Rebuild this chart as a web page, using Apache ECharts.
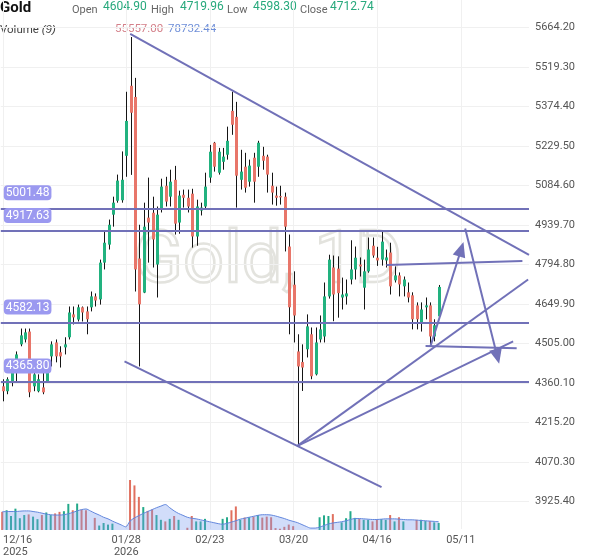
<!DOCTYPE html>
<html><head><meta charset="utf-8">
<script src="https://cdn.jsdelivr.net/npm/echarts@6/dist/echarts.min.js"></script>
<style>html,body{margin:0;padding:0;background:#fff}#c{width:600px;height:558px}</style>
</head><body><div id="c"></div>
<script>
// ---- data ----
const opens  = [4348,4330,4366,4399,4502,4520,4549,4348,4330,4344,4366,4458,4509,4473,4491,4528,4612,4593,4638,4623,
                4638,4678,4667,4802,4868,4978,5029,5031,5194,5451,5410,4817,4692,4967,4985,4795,4997,5084,5044,5106,
                4949,5051,5040,5055,4898,4993,5008,5114,5242,5132,5172,5198,5359,5337,5106,5154,5099,5187,5154,5194,
                5191,5084,5048,5046,5044,4861,4721,4476,4437,4484,4539,4392,4520,4531,4678,4784,4780,4674,4678,4740,
                4777,4795,4710,4770,4864,4820,4813,4810,4839,4737,4755,4715,4693,4682,4645,4583,4638,4645,4531,4604.90];
const highs  = [4374,4381,4421,4476,4560,4560,4560,4403,4392,4399,4439,4513,4520,4495,4528,4641,4641,4648,4641,4641,
                4696,4689,4813,4916,4960,5044,5125,5210,5429,5630,5480,4941,5022,5114,5044,5008,5110,5117,5143,5157,
                5066,5070,5070,5073,5033,5022,5132,5234,5245,5223,5223,5301,5429,5392,5216,5205,5180,5205,5249,5227,
                5198,5132,5081,5084,5059,4905,4770,4539,4502,4612,4564,4564,4608,4729,4831,4828,4825,4747,4740,4884,
                4861,4821,4813,4894,4894,4860,4917,4850,4875,4788,4766,4751,4729,4693,4656,4656,4674,4656,4594,4719.96];
const lows   = [4293,4319,4348,4366,4495,4509,4308,4330,4326,4319,4363,4421,4436,4417,4465,4520,4575,4586,4586,4539,
                4623,4641,4648,4777,4850,4934,5022,5022,5117,5124,4696,4421,4690,4802,4784,4674,4986,5008,5008,4905,
                4908,5004,4986,4857,4864,4975,4997,5095,5136,5125,5143,5180,5271,5004,5070,5059,5081,5022,5117,5143,
                5059,5015,5011,5015,4843,4539,4509,4128.5,4331,4454,4374,4388,4509,4509,4670,4587,4600,4630,4648,4722,
                4740,4751,4630,4765,4820,4790,4791,4784,4685,4729,4678,4678,4656,4557,4557,4549,4594,4502,4513,4598.30];
const closes = [4330,4374,4399,4465,4535,4546,4326,4392,4374,4326,4403,4502,4458,4458,4502,4619,4601,4638,4619,4594,
                4678,4663,4802,4875,4941,5022,5103,5106,5322,5352,4777,4649,4934,4949,4887,4978,5081,5026,5099,4945,
                5048,5040,5008,4898,5008,5004,5081,5209,5154,5209,5191,5249,5308,5121,5136,5077,5158,5099,5242,5176,
                5125,5059,5040,5043,4934,4638,4608,4421,4417,4568,4385,4509,4557,4678,4813,4685,4690,4685,4689,4777,
                4820,4788,4770,4850,4828,4810,4879,4821,4715,4755,4722,4740,4674,4594,4594,4630,4645,4531,4572,4712.74];
const volumes = [142500,155000,110000,167500,92500,117500,122500,105000,85000,117500,137500,117500,130000,142500,147500,205000,155000,207500,160000,155000,
                 0,95000,35000,55000,42500,50000,0,0,0,392500,350000,260000,180000,150000,160000,117500,80000,67500,87500,110000,
                 80000,0,17500,110000,67500,67500,87500,0,0,0,87500,100000,155000,185000,80000,97500,100000,105000,117500,97500,
                 105000,100000,15000,10000,25000,42500,30000,0,0,0,0,0,100000,115000,110000,125000,0,60000,92500,147500,
                 95000,87500,80000,80000,67500,80000,85000,80000,117500,67500,100000,67500,0,0,80000,80000,70000,70000,60000,55557];
const volumeMA = [142500,145000,145000,145000,147500,150000,150000,145000,140000,132500,125000,120000,117500,117500,120000,127500,137500,150000,160000,165000,
                  150000,132500,117500,100000,87500,70000,55000,40000,25000,70000,95000,112500,130000,145000,160000,175000,187500,200000,175000,150000,
                  130000,115000,100000,92500,87500,80000,72500,65000,57500,50000,45000,52500,62500,72500,85000,92500,100000,107500,115000,120000,
                  120000,117500,110000,100000,90000,77500,67500,57500,42500,27500,15000,15000,22500,35000,47500,55000,60000,65000,72500,82500,
                  90000,90000,87500,85000,82500,82500,85000,87500,87500,87500,85000,82500,80000,80000,77500,75000,72500,70000,67500,65000];
const xTickIndex  = [0, 28, 47, 66, 85, 104];
const xTickLabels = ['12/16\n2025', '01/28\n2026', '02/23', '03/20', '04/16', '05/11'];
const yTicks = [5664.20, 5519.30, 5374.40, 5229.50, 5084.60, 4939.70, 4794.80, 4649.90, 4505.00, 4360.10, 4215.20, 4070.30, 3925.40];
const levelPrices = [5001.48, 4917.63, 4582.13, 4365.80];
const trendLines = [
  [[28.9, 5641.3], [119.5, 4830.3]],
  [[27.6, 4439.8], [86.0, 3978.3]],
  [[66.8, 4128.4], [119.3, 4740.2]],
  [[66.8, 4128.4], [115.9, 4513.1]],
  [[87.1, 4793.3], [118.0, 4807.9]],
  [[96.0, 4495.8], [116.7, 4487.4]]
];
const arrows = [
  [[97.1, 4494.7], [104.1, 4851.1]],
  [[105.0, 4927.0], [112.3, 4457.4]]
];
const lastPrice = 4701.49;
const volumeLast = 55557.00, volumeMALast = 78732.44;

// ---- styles ----
const UP = '#22b27f', DOWN = '#e8766a', WICK = '#151515', DRAW = '#7171b8';
const FONT = 'Roboto, sans-serif';
const n = opens.length;
const last = n - 1;

const candleData = opens.map((o, i) => [i, o, closes[i], lows[i], highs[i]]);

function renderCandle(params, api) {
  const x = api.value(0), o = api.value(1), c = api.value(2), l = api.value(3), h = api.value(4);
  const pO = api.coord([x, o]), pC = api.coord([x, c]), pL = api.coord([x, l]), pH = api.coord([x, h]);
  const cx = Math.round(pO[0]);
  const top = Math.min(pO[1], pC[1]), bot = Math.max(pO[1], pC[1]);
  return {
    type: 'group',
    children: [
      { type: 'line', shape: { x1: cx + 0.5, y1: pH[1], x2: cx + 0.5, y2: pL[1] }, style: { stroke: WICK, lineWidth: 1 } },
      { type: 'rect', shape: { x: cx - 1, y: top, width: 3, height: Math.max(bot - top, 1.2) }, style: { fill: c >= o ? UP : DOWN } }
    ]
  };
}

const markData = [];
levelPrices.forEach(p => markData.push({
  yAxis: p,
  label: {
    show: true, position: 'insideStartTop', formatter: p.toFixed(2), distance: [3, 8],
    color: '#fff', fontSize: 12, fontFamily: FONT, backgroundColor: '#9b99f0',
    padding: [1, 2, 0, 2], borderRadius: 4, lineHeight: 14
  }
}));
markData.push({
  yAxis: lastPrice, lineStyle: { opacity: 0 },
  label: {
    show: true, position: 'end', formatter: lastPrice.toFixed(2), distance: 3,
    color: '#fff', fontSize: 12, fontFamily: FONT, backgroundColor: '#1fc67a',
    padding: [3, 13, 2, 13], borderRadius: 3, lineHeight: 13
  }
});
trendLines.forEach(seg => markData.push([{ coord: seg[0] }, { coord: seg[1] }]));
arrows.forEach(seg => markData.push([{ coord: seg[0], symbol: 'none' }, { coord: seg[1], symbol: 'triangle', symbolSize: [13, 15] }]));

const LBL = '11px Roboto, sans-serif', VAL = '12px Roboto, sans-serif';
const chart = echarts.init(document.getElementById('c'), null, { renderer: 'canvas' });
chart.setOption({
  animation: false,
  backgroundColor: '#fff',
  textStyle: { fontFamily: FONT },
  grid: [
    { left: -1, top: 0, width: 530, height: 530 },
    { left: -1, top: 480, width: 530, height: 50 }
  ],
  xAxis: [
    {
      type: 'value', gridIndex: 0, min: -0.5, max: 119.5,
      axisLine: { show: false },
      axisTick: { show: false, customValues: xTickIndex },
      axisLabel: {
        customValues: xTickIndex, alignMinLabel: 'left',
        formatter: v => xTickLabels[xTickIndex.indexOf(Math.round(v))] || '',
        fontSize: 11, color: '#555', lineHeight: 12, margin: 5
      },
      splitLine: { show: true, lineStyle: { color: '#f0f0f0', width: 1 } }
    },
    { type: 'value', gridIndex: 1, min: -0.5, max: 119.5, show: false }
  ],
  yAxis: [
    {
      type: 'value', gridIndex: 0, position: 'right', min: 3824.4, max: 5765.8,
      axisLine: { show: false },
      axisTick: { show: false, customValues: yTicks },
      axisLabel: { customValues: yTicks, formatter: v => v.toFixed(2), fontSize: 11, color: '#555', margin: 6 },
      splitLine: { show: true, lineStyle: { color: '#f0f0f0', width: 1 } }
    },
    { type: 'value', gridIndex: 1, min: 0, max: 392500, show: false }
  ],
  graphic: [
    { type: 'text', z: -10, style: { x: 268, y: 264, text: 'Gold, 1D', font: '72px Roboto, sans-serif', align: 'center', verticalAlign: 'middle', fill: 'rgba(255,255,255,0)', stroke: '#e3e3de', lineWidth: 2.5 } },
    { type: 'text', style: { x: 0, y: 8, text: 'Gold', font: 'bold 15px Roboto, sans-serif', fill: '#111', verticalAlign: 'middle' } },
    { type: 'text', style: { x: 72, y: 10, text: 'Open', font: LBL, fill: '#666', verticalAlign: 'middle' } },
    { type: 'text', style: { x: 103, y: 7, text: opens[last].toFixed(2), font: VAL, fill: '#27a97c', verticalAlign: 'middle' } },
    { type: 'text', style: { x: 151, y: 10, text: 'High', font: LBL, fill: '#666', verticalAlign: 'middle' } },
    { type: 'text', style: { x: 180, y: 7, text: highs[last].toFixed(2), font: VAL, fill: '#27a97c', verticalAlign: 'middle' } },
    { type: 'text', style: { x: 227, y: 10, text: 'Low', font: LBL, fill: '#666', verticalAlign: 'middle' } },
    { type: 'text', style: { x: 253, y: 7, text: lows[last].toFixed(2), font: VAL, fill: '#27a97c', verticalAlign: 'middle' } },
    { type: 'text', style: { x: 300, y: 10, text: 'Close', font: LBL, fill: '#666', verticalAlign: 'middle' } },
    { type: 'text', style: { x: 330, y: 7, text: closes[last].toFixed(2), font: VAL, fill: '#27a97c', verticalAlign: 'middle' } },
    { type: 'text', style: { x: 0, y: 30, text: 'Volume {i|(9)}', font: '11.5px Roboto, sans-serif', fill: '#444', verticalAlign: 'middle', rich: { i: { fontStyle: 'italic', fontSize: 11.5, fill: '#444' } } } },
    { type: 'text', style: { x: 115, y: 29, text: volumeLast.toFixed(2), font: '11.5px Roboto, sans-serif', fill: '#d4808a', verticalAlign: 'middle' } },
    { type: 'text', style: { x: 168, y: 29, text: volumeMALast.toFixed(2), font: '11.5px Roboto, sans-serif', fill: '#6f8fd8', verticalAlign: 'middle' } }
  ],
  series: [
    {
      name: 'volume', type: 'bar', xAxisIndex: 1, yAxisIndex: 1, barWidth: 2, z: 2,
      data: volumes.map((v, i) => ({ value: [i, v], itemStyle: { color: closes[i] >= opens[i] ? '#23a98a' : '#e0705f' } }))
    },
    {
      name: 'volumeMA', type: 'line', xAxisIndex: 1, yAxisIndex: 1, z: 3, smooth: 0.3, showSymbol: false,
      data: volumeMA.map((v, i) => [i, v]),
      lineStyle: { color: '#6286dc', width: 1 },
      areaStyle: { color: 'rgba(125,160,240,0.5)' }
    },
    {
      name: 'candles', type: 'custom', xAxisIndex: 0, yAxisIndex: 0, z: 4,
      renderItem: renderCandle, data: candleData, encode: { x: 0, y: [1, 2, 3, 4] }
    },
    {
      name: 'drawings', type: 'line', xAxisIndex: 0, yAxisIndex: 0, z: 5, data: [],
      markLine: {
        silent: true, animation: false, symbol: ['none', 'none'],
        lineStyle: { color: DRAW, width: 2, type: 'solid' },
        label: { show: false },
        emphasis: { disabled: true },
        data: markData
      }
    }
  ]
});
</script>
</body></html>
